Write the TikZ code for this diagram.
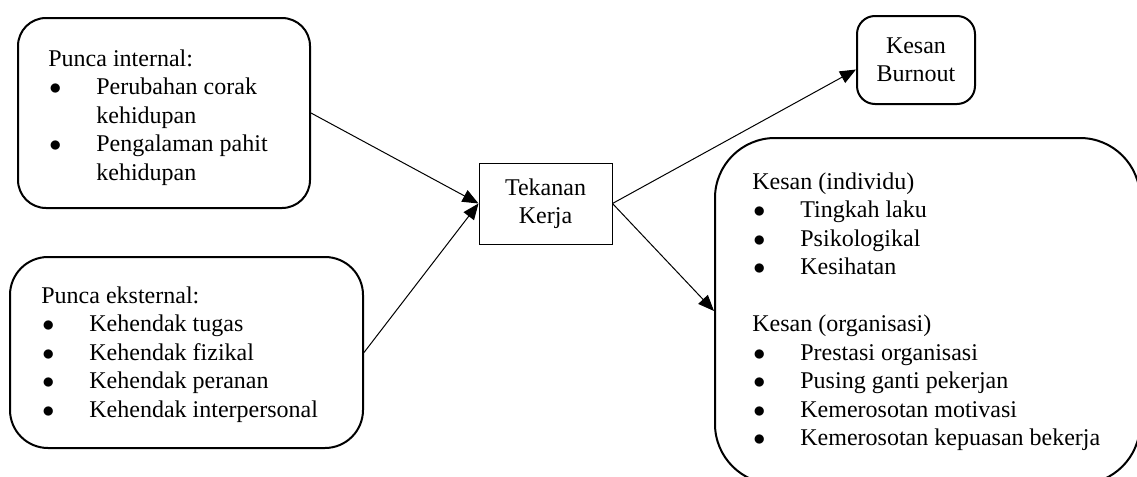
\documentclass[tikz,border=0pt]{standalone}
\usepackage{fontspec}
\setmainfont{Liberation Serif}
\usetikzlibrary{arrows.meta}
\newcommand{\bul}{\makebox[24pt][l]{\hspace{0.5pt}$\bullet$}}
\newcommand{\ind}{\makebox[24pt]{}}
\tikzset{
  roundbox/.style={draw, line width=1pt},
  plainbox/.style={draw, line width=0.5pt, align=center, font=\fontsize{12}{14.25}\selectfont},
  listtext/.style={anchor=base west, inner sep=0pt, font=\fontsize{12}{14.25}\selectfont},
  arr/.style={-{Triangle[length=8pt,width=6.5pt]}, line width=0.5pt}
}
\begin{document}
\begin{tikzpicture}[x=0.5pt,y=-0.5pt]
		\useasboundingbox (0,0) rectangle (1137,477);
		\clip (0,0) rectangle (1137,477);

		\node[roundbox, rounded corners=14pt, minimum width=146pt, minimum height=95pt] (internal) at (164,113) {};
		\node[roundbox, rounded corners=19pt, minimum width=176.5pt, minimum height=95.5pt] (external) at (186.5,352.5) {};
		\node[plainbox, minimum width=66.5pt, minimum height=40.5pt] (tekanan) at (545.5,203.5) {Tekanan\\Kerja};
		\node[plainbox, line width=1pt, rounded corners=9pt, minimum width=59pt, minimum height=44pt] (burnout) at (916,60) {Kesan\\Burnout};
		\node[roundbox, rounded corners=30pt, minimum width=212.5pt, minimum height=173pt] (kesan) at (927.5,311) {};

		\node[listtext] (internaltext) at (48,66) {\begin{tabular}[t]{@{}l@{}}Punca internal:\\ \bul Perubahan corak\\ \ind kehidupan\\ \bul Pengalaman pahit\\ \ind kehidupan\end{tabular}};
		\node[listtext] (externaltext) at (41,303) {\begin{tabular}[t]{@{}l@{}}Punca eksternal:\\ \bul Kehendak tugas\\ \bul Kehendak fizikal\\ \bul Kehendak peranan\\ \bul Kehendak interpersonal\end{tabular}};
		\node[listtext] (kesantext) at (752,189) {\begin{tabular}[t]{@{}l@{}}Kesan (individu)\\ \bul Tingkah laku\\ \bul Psikologikal\\ \bul Kesihatan\\ \\ Kesan (organisasi)\\ \bul Prestasi organisasi\\ \bul Pusing ganti pekerjan\\ \bul Kemerosotan motivasi\\ \bul Kemerosotan kepuasan bekerja\end{tabular}};

		\draw[arr] (internal.east) -- (tekanan.west);
		\draw[arr] (external.east) -- (tekanan.west);
		\draw[arr] (tekanan.east) -- (burnout.189);
		\draw[arr] (tekanan.east) -- (kesan.west);
	\end{tikzpicture}
\end{document}
